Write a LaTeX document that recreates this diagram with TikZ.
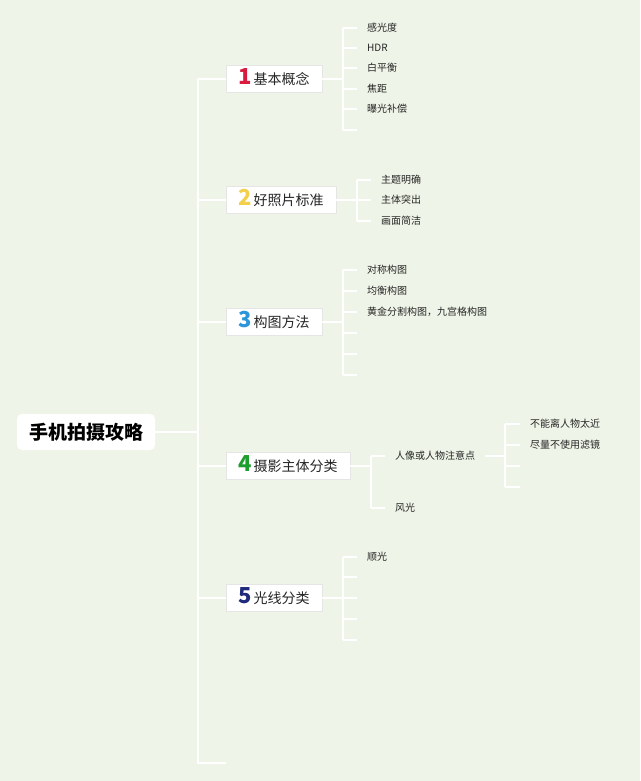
\documentclass[tikz,border=0pt]{standalone}
\usepackage{fontspec}
\newfontfamily\cjk{Noto Sans CJK SC}
\definecolor{bgc}{RGB}{238,244,231}
\definecolor{cone}{RGB}{216,27,63}
\definecolor{ctwo}{RGB}{242,208,75}
\definecolor{cthree}{RGB}{43,150,217}
\definecolor{cfour}{RGB}{30,158,47}
\definecolor{cfive}{RGB}{31,42,122}
\newcommand{\numlab}[2]{{\bfseries\color{#1}\fontsize{22}{22}\selectfont #2}\hspace{1.5pt}}
\begin{document}
\begin{tikzpicture}[x=1pt,y=-1pt,
  conn/.style={draw=white, line width=1.6pt},
  trunkline/.style={draw=white, line width=2.4pt},
  rootbox/.style={fill=white, rounded corners=5pt, minimum height=36pt, minimum width=138pt, inner xsep=10pt, font=\cjk\bfseries\fontsize{19}{19}\selectfont, text=black},
  mainbox/.style={fill=white, draw=black!10, minimum height=27pt, text height=14pt, text depth=3pt, inner xsep=12.5pt, anchor=west, font=\cjk\fontsize{14}{14}\selectfont, text=black!85},
  leaf/.style={anchor=west, font=\cjk\fontsize{10}{10}\selectfont, text=black!85, inner xsep=10pt, inner ysep=0pt}
]
\fill[bgc] (0,0) rectangle (640,781);
\useasboundingbox (0,0) rectangle (640,781);

% root
\node[rootbox] (root) at (86,432) {手机拍摄攻略};
\coordinate (tj) at (198,432);
\coordinate (ttop) at (198,79);
\coordinate (tbot) at (198,763);
\coordinate (tend) at (226,763);

% main boxes
\node[mainbox] (b1) at (226,79) {\numlab{cone}{1}基本概念};
\node[mainbox] (b2) at (226,200) {\numlab{ctwo}{2}好照片标准};
\node[mainbox] (b3) at (226,322) {\numlab{cthree}{3}构图方法};
\node[mainbox] (b4) at (226,466) {\numlab{cfour}{4}摄影主体分类};
\node[mainbox] (b5) at (226,598) {\numlab{cfive}{5}光线分类};

% trunk
\draw[trunkline] (root.east) -- (tj);
\draw[trunkline] (ttop) -- (tbot) -- (tend);
\foreach \b in {b1,b2,b3,b4,b5} \draw[trunkline] (ttop |- \b.west) -- (\b.west);

% branch 1
\coordinate (j1) at (343,79);
\node[leaf] (l11) at (357,28) {感光度};
\node[leaf] (l12) at (357,48) {HDR};
\node[leaf] (l13) at (357,68) {白平衡};
\node[leaf] (l14) at (357,89) {焦距};
\node[leaf] (l15) at (357,109) {曝光补偿};
\coordinate (e16) at (357,130);
\draw[conn] (b1.east) -- (j1);
\draw[conn] (j1 |- l11.west) -- (j1 |- e16);
\foreach \t in {l11.west,l12.west,l13.west,l14.west,l15.west,e16} \draw[conn] (j1 |- \t) -- (\t);

% branch 2
\coordinate (j2) at (357,200);
\node[leaf] (l21) at (371,180) {主题明确};
\node[leaf] (l22) at (371,200) {主体突出};
\node[leaf] (l23) at (371,221) {画面简洁};
\draw[conn] (b2.east) -- (j2);
\draw[conn] (j2 |- l21.west) -- (j2 |- l23.west);
\foreach \t in {l21,l22,l23} \draw[conn] (j2 |- \t.west) -- (\t.west);

% branch 3
\coordinate (j3) at (343,322);
\node[leaf] (l31) at (357,270) {对称构图};
\node[leaf] (l32) at (357,291) {均衡构图};
\node[leaf] (l33) at (357,312) {黄金分割构图，九宫格构图};
\coordinate (e34) at (357,333);
\coordinate (e35) at (357,354);
\coordinate (e36) at (357,375);
\draw[conn] (b3.east) -- (j3);
\draw[conn] (j3 |- l31.west) -- (j3 |- e36);
\foreach \t in {l31.west,l32.west,l33.west,e34,e35,e36} \draw[conn] (j3 |- \t) -- (\t);

% branch 4
\coordinate (j4) at (371,466);
\node[leaf] (l41) at (385,456) {人像或人物注意点};
\node[leaf] (l42) at (385,508) {风光};
\draw[conn] (b4.east) -- (j4);
\draw[conn] (j4 |- l41.west) -- (j4 |- l42.west);
\foreach \t in {l41,l42} \draw[conn] (j4 |- \t.west) -- (\t.west);
\coordinate (j41) at (505,456);
\node[leaf] (m1) at (520,424) {不能离人物太近};
\node[leaf] (m2) at (520,445) {尽量不使用滤镜};
\coordinate (em3) at (520,466);
\coordinate (em4) at (520,487);
\draw[conn] (l41.east) -- (j41);
\draw[conn] (j41 |- m1.west) -- (j41 |- em4);
\foreach \t in {m1.west,m2.west,em3,em4} \draw[conn] (j41 |- \t) -- (\t);

% branch 5
\coordinate (j5) at (343,598);
\node[leaf] (l51) at (357,557) {顺光};
\coordinate (e52) at (357,577);
\coordinate (e53) at (357,598);
\coordinate (e54) at (357,619);
\coordinate (e55) at (357,640);
\draw[conn] (b5.east) -- (j5);
\draw[conn] (j5 |- l51.west) -- (j5 |- e55);
\foreach \t in {l51.west,e52,e53,e54,e55} \draw[conn] (j5 |- \t) -- (\t);
\end{tikzpicture}
\end{document}
